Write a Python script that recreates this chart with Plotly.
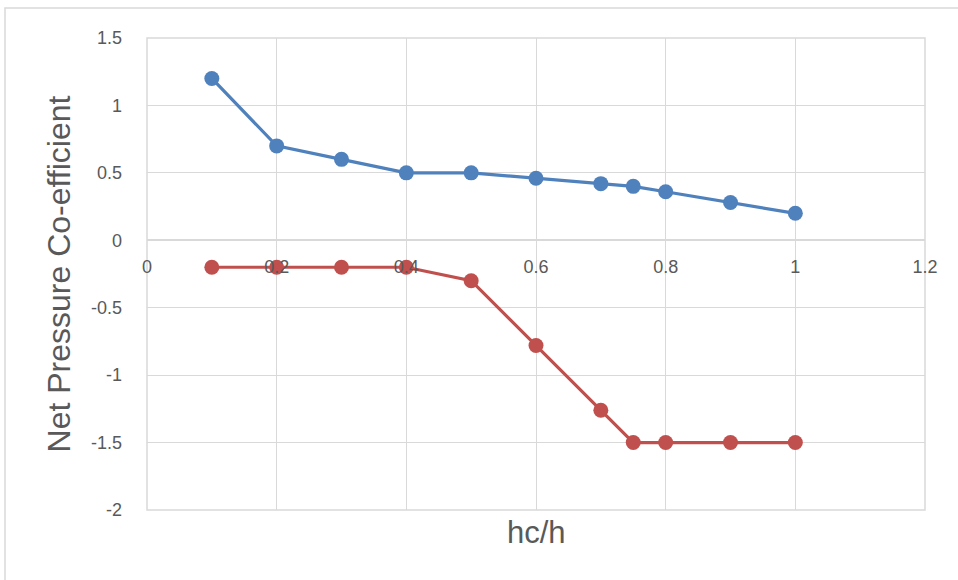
import plotly.graph_objects as go

hc_h = [0.1, 0.2, 0.3, 0.4, 0.5, 0.6, 0.7, 0.75, 0.8, 0.9, 1.0]
upper = [1.2, 0.7, 0.6, 0.5, 0.5, 0.46, 0.42, 0.4, 0.36, 0.28, 0.2]
lower = [-0.2, -0.2, -0.2, -0.2, -0.3, -0.78, -1.26, -1.5, -1.5, -1.5, -1.5]

x_ticks = [0, 0.2, 0.4, 0.6, 0.8, 1, 1.2]
x_labels = ["0", "0.2", "0.4", "0.6", "0.8", "1", "1.2"]
y_ticks = [-2, -1.5, -1, -0.5, 0, 0.5, 1, 1.5]
y_labels = ["-2", "-1.5", "-1", "-0.5", "0", "0.5", "1", "1.5"]

BLUE = "#4F81BD"
RED = "#C0504D"
GRID = "#D9D9D9"
TXT = "#595959"
FONT = "Liberation Sans, Arial, sans-serif"

fig = go.Figure()
fig.add_trace(go.Scatter(x=hc_h, y=upper, mode="lines+markers",
                         line=dict(color=BLUE, width=3.2),
                         marker=dict(color=BLUE, size=15), showlegend=False))
fig.add_trace(go.Scatter(x=hc_h, y=lower, mode="lines+markers",
                         line=dict(color=RED, width=3.2),
                         marker=dict(color=RED, size=15), showlegend=False))

L, R, T, B = 147, 33, 38, 70
W, H = 958, 580
pw, ph = W - L - R, H - T - B
zero_pos = (H - B - 239) / ph

fig.update_layout(
    width=W, height=H,
    margin=dict(l=L, r=R, t=T, b=B, pad=0),
    paper_bgcolor="white", plot_bgcolor="white",
    font=dict(family=FONT, color=TXT, size=18),
    xaxis=dict(range=[0, 1.2], tickvals=x_ticks, ticktext=x_labels,
               showgrid=True, gridcolor=GRID, gridwidth=1,
               zeroline=False, showline=False,
               anchor="free", position=zero_pos,
               ticks="outside", ticklen=0, ticklabelstandoff=11,
               tickfont=dict(size=18, color=TXT)),
    yaxis=dict(range=[-2, 1.5], tickvals=y_ticks, ticktext=y_labels,
               showgrid=True, gridcolor=GRID, gridwidth=1,
               zeroline=True, zerolinecolor=GRID, zerolinewidth=1.5,
               showline=False, ticks="", ticklabelstandoff=24,
               tickfont=dict(size=18, color=TXT),
               title=dict(text="Net Pressure Co-efficient",
                          font=dict(size=32, color=TXT), standoff=10)),
    shapes=[
        dict(type="rect", xref="paper", yref="paper", x0=0, x1=1, y0=0, y1=1,
             line=dict(color=GRID, width=1.5), layer="below"),
        dict(type="rect", xref="paper", yref="paper",
             x0=(5 - L) / pw, x1=(W + 10 - L) / pw,
             y0=-(H + 10 - (H - B)) / ph, y1=(H - B - 8) / ph,
             line=dict(color=GRID, width=1.5), layer="below"),
    ],
    annotations=[
        dict(text="hc/h", xref="paper", yref="paper", x=0.5, y=-22 / ph,
             xanchor="center", yanchor="middle", showarrow=False,
             font=dict(size=31, color=TXT)),
    ],
)

fig.write_html("out.html", config={"displayModeBar": False},
               post_script="document.body.style.margin='0';")
